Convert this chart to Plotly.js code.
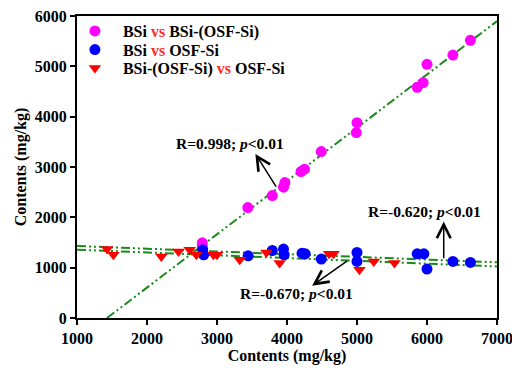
<!DOCTYPE html>
<html>
<head>
<meta charset="utf-8">
<script src="https://cdn.plot.ly/plotly-3.0.1.min.js"></script>
<style>html,body{margin:0;padding:0;background:#fff;}#chart{width:512px;height:369px;}</style>
</head>
<body>
<div id="chart"></div>
<script>
// BSi vs BSi-(OSF-Si)
const pinkX = [6620, 6370, 6000, 5945, 5860, 5000, 4990, 4490, 4250, 4200, 3970, 3950, 3790, 3440, 2790, 2790];
const pinkY = [5516, 5224, 5040, 4675, 4583, 3881, 3683, 3306, 2956, 2909, 2690, 2600, 2432, 2194, 1494, 1430];
// BSi vs OSF-Si
const blueX = [2795, 2810, 3445, 3790, 3950, 3960, 4215, 4260, 4490, 5000, 5000, 5860, 5955, 6000, 6370, 6620];
const blueY = [1355, 1256, 1236, 1341, 1369, 1256, 1288, 1276, 1171, 1302, 1123, 1276, 1276, 972, 1123, 1103];
// BSi-(OSF-Si) vs OSF-Si
const redX = [1430, 1520, 2205, 2450, 2610, 2705, 2950, 3000, 3325, 3705, 3895, 4600, 4665, 5035, 5240, 5535];
const redY = [1369, 1256, 1222, 1321, 1355, 1256, 1256, 1256, 1157, 1302, 1091, 1276, 1276, 958, 1123, 1091];

const seriesNames = [
  "<b>BSi <span style='color:#ff2a2a'>vs</span> BSi-(OSF-Si)</b>",
  "<b>BSi <span style='color:#ff2a2a'>vs</span> OSF-Si</b>",
  "<b>BSi-(OSF-Si) <span style='color:#ff2a2a'>vs</span> OSF-Si</b>"
];
const xTicks = [1000, 2000, 3000, 4000, 5000, 6000, 7000];
const yTicks = [0, 1000, 2000, 3000, 4000, 5000, 6000];

function fit(xs, ys) {
  const n = xs.length;
  const mx = xs.reduce((a, b) => a + b, 0) / n;
  const my = ys.reduce((a, b) => a + b, 0) / n;
  let sxy = 0, sxx = 0;
  for (let i = 0; i < n; i++) { sxy += (xs[i] - mx) * (ys[i] - my); sxx += (xs[i] - mx) ** 2; }
  const b = sxy / sxx;
  return { b: b, a: my - b * mx };
}
const fp = fit(pinkX, pinkY), fb = fit(blueX, blueY), fr = fit(redX, redY);
const x0p = -fp.a / fp.b;
const green = '#1a8a1a';
const dashStyle = '9px,3px,2px,3px,2px,3px';
const FONT = '"Times New Roman", Times, "Liberation Serif", serif';

const traces = [
  { x: [x0p, 7000], y: [0, fp.a + fp.b * 7000], mode: 'lines', line: { color: green, width: 2, dash: dashStyle }, showlegend: false, hoverinfo: 'skip' },
  { x: [1000, 7000], y: [fb.a + fb.b * 1000, fb.a + fb.b * 7000], mode: 'lines', line: { color: green, width: 2, dash: dashStyle }, showlegend: false, hoverinfo: 'skip' },
  { x: [1000, 7000], y: [fr.a + fr.b * 1000, fr.a + fr.b * 7000], mode: 'lines', line: { color: green, width: 2, dash: dashStyle }, showlegend: false, hoverinfo: 'skip' },
  { x: pinkX, y: pinkY, mode: 'markers', name: seriesNames[0], legend: 'legend', marker: { color: '#ff00ff', size: 11, symbol: 'circle' } },
  { x: blueX, y: blueY, mode: 'markers', name: seriesNames[1], legend: 'legend2', marker: { color: '#0000ff', size: 11, symbol: 'circle' } },
  { x: redX, y: redY, mode: 'markers', name: seriesNames[2], legend: 'legend3', marker: { color: '#ff0000', size: 11, symbol: 'triangle-down' } }
];

const txtFont = { family: FONT, size: 15.5, color: '#000' };
const annotations = [
  { x: 3191, y: 3458, text: '<b>R=0.998; <i>p</i><0.01</b>', showarrow: false, font: txtFont },
  { x: 3548, y: 3260, ax: 3858, ay: 2579, axref: 'x', ayref: 'y', text: '', showarrow: true, arrowhead: 5, arrowsize: 1.8, arrowwidth: 1.5, arrowcolor: '#000' },
  { x: 5971, y: 2115, text: '<b>R=-0.620; <i>p</i><0.01</b>', showarrow: false, font: txtFont },
  { x: 6239, y: 1917, ax: 6239, ay: 1157, axref: 'x', ayref: 'y', text: '', showarrow: true, arrowhead: 5, arrowsize: 1.8, arrowwidth: 1.5, arrowcolor: '#000' },
  { x: 4139, y: 496, text: '<b>R=-0.670; <i>p</i><0.01</b>', showarrow: false, font: txtFont },
  { x: 4359, y: 641, ax: 4882, ay: 1157, axref: 'x', ayref: 'y', text: '', showarrow: true, arrowhead: 5, arrowsize: 1.8, arrowwidth: 1.5, arrowcolor: '#000' }
];

const axisCommon = {
  showline: true, linecolor: '#000', linewidth: 2, mirror: true,
  ticks: 'outside', ticklen: 5, tickwidth: 2, tickcolor: '#000',
  showgrid: false, zeroline: false, ticklabeloverflow: 'allow',
  tickfont: { family: FONT, size: 16, color: '#000' }
};

function legendAt(yc) {
  return {
    x: -0.024, y: yc, xanchor: 'left', yanchor: 'middle', bgcolor: 'rgba(0,0,0,0)',
    font: { family: FONT, size: 16, color: '#000' },
    itemwidth: 46, tracegroupgap: 0
  };
}

const layout = {
  width: 512, height: 369,
  margin: { l: 77, r: 15, t: 16, b: 51 },
  paper_bgcolor: '#fff', plot_bgcolor: '#fff',
  font: { family: FONT, color: '#000' },
  xaxis: Object.assign({}, axisCommon, {
    range: [1000, 7000], tickvals: xTicks, ticktext: xTicks.map(v => '<b>' + v + '</b>'),
    title: { text: '<b>Contents (mg/kg)</b>', font: { family: FONT, size: 16, color: '#000' }, standoff: 1 }
  }),
  yaxis: Object.assign({}, axisCommon, {
    range: [0, 6000], tickvals: yTicks, ticktext: yTicks.map(v => '<b>' + v + '</b>'),
    title: { text: '<b>Contents (mg/kg)</b>', font: { family: FONT, size: 16, color: '#000' }, standoff: 4 }
  }),
  legend: legendAt(0.9504),
  legend2: legendAt(0.8886),
  legend3: legendAt(0.8272),
  annotations: annotations,
  showlegend: true
};

Plotly.newPlot('chart', traces, layout, { staticPlot: true, displayModeBar: false });
</script>
</body>
</html>
